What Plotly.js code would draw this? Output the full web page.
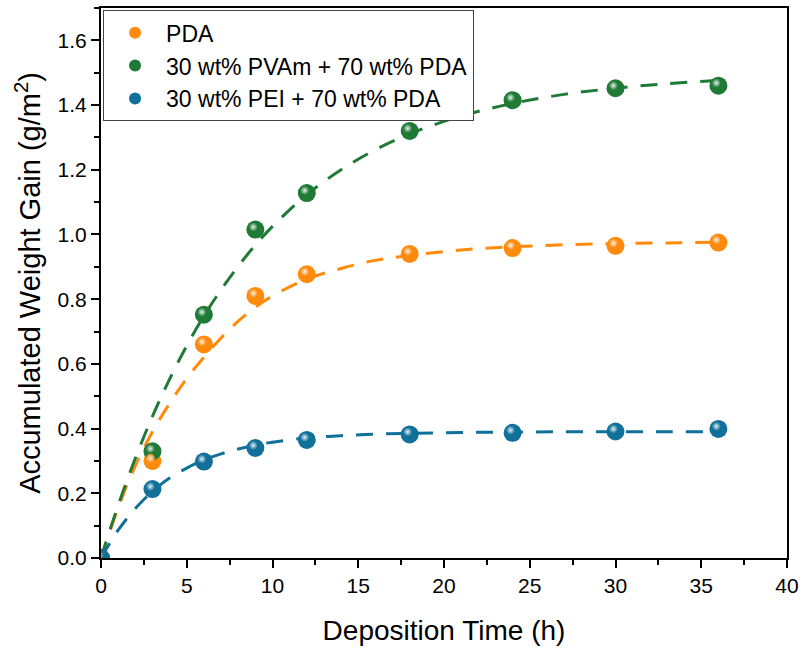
<!DOCTYPE html>
<html>
<head>
<meta charset="utf-8">
<script src="https://cdn.plot.ly/plotly-3.0.1.min.js"></script>
<style>html,body{margin:0;padding:0;background:#fff;}#chart{width:802px;height:654px;}</style>
</head>
<body>
<div id="chart"></div>
<script>
// Measured data points
const timeH = [0, 3, 6, 9, 12, 18, 24, 30, 36];
const pdaGain  = [0, 0.300, 0.660, 0.810, 0.877, 0.940, 0.958, 0.965, 0.975];
const pvamGain = [0, 0.330, 0.752, 1.015, 1.128, 1.320, 1.415, 1.452, 1.460];
const peiGain  = [0, 0.213, 0.298, 0.340, 0.365, 0.382, 0.387, 0.391, 0.399];

// Fitted curves
const fitTime = [0, 1, 2, 3, 4, 5, 6, 7, 8, 9, 10, 12, 14, 16, 18, 21, 24, 27, 30, 33, 36];
const pdaFit  = [0, 0.155, 0.285, 0.390, 0.478, 0.555, 0.620, 0.680, 0.732, 0.775, 0.810, 0.862, 0.895, 0.920, 0.935, 0.952, 0.962, 0.968, 0.972, 0.974, 0.976];
const pvamFit = [0, 0.163, 0.308, 0.438, 0.553, 0.656, 0.748, 0.829, 0.902, 0.967, 1.025, 1.123, 1.200, 1.262, 1.311, 1.366, 1.405, 1.433, 1.452, 1.466, 1.476];
const peiFit  = [0, 0.086, 0.153, 0.206, 0.247, 0.278, 0.303, 0.322, 0.337, 0.349, 0.358, 0.371, 0.378, 0.383, 0.385, 0.388, 0.389, 0.390, 0.390, 0.390, 0.390];

const seriesNames = ["PDA", "30 wt% PVAm + 70 wt% PDA", "30 wt% PEI + 70 wt% PDA"];
const colors = ["#ff8a0c", "#1f7a36", "#11709a"];

const fits = [pdaFit, pvamFit, peiFit];
const pts = [pdaGain, pvamGain, peiGain];

const traces = [];
fits.forEach((f, i) => {
  traces.push({
    x: fitTime, y: f, mode: "lines", type: "scatter", showlegend: false, hoverinfo: "skip",
    line: {color: colors[i], width: 3, dash: "17px,13px", shape: "spline"}
  });
});
pts.forEach((p, i) => {
  traces.push({
    x: timeH, y: p, mode: "markers", type: "scatter", name: seriesNames[i],
    cliponaxis: true,
    marker: {color: colors[i], size: 18, line: {width: 0}}
  });
  // glossy highlight, drawn on slightly shifted overlay axes
  traces.push({
    x: timeH, y: p, mode: "markers", type: "scatter", showlegend: false, hoverinfo: "skip",
    xaxis: "x2", yaxis: "y2", cliponaxis: true,
    marker: {color: colors[i], size: 9, line: {width: 0}, opacity: 0.9,
             gradient: {type: "radial", color: "#ffffff"}}
  });
});

const axisCommon = {
  showgrid: false, zeroline: false,
  showline: true, linecolor: "#000", linewidth: 2, mirror: true,
  ticks: "outside", ticklen: 8, tickwidth: 2, tickcolor: "#000",
  tickfont: {size: 21}
};

const layout = {
  width: 802, height: 654,
  margin: {l: 101, r: 15, t: 8, b: 96},
  paper_bgcolor: "#fff", plot_bgcolor: "#fff",
  font: {family: "Liberation Sans, Arial, sans-serif", color: "#000", size: 20},
  showlegend: true,
  legend: {
    x: 0.003, y: 0.996, xanchor: "left", yanchor: "top",
    bgcolor: "#fff", bordercolor: "#444", borderwidth: 1,
    font: {size: 23, family: "Liberation Sans, Arial, sans-serif"},
    itemsizing: "constant", tracegroupgap: 0, itemwidth: 52
  },
  xaxis: Object.assign({}, axisCommon, {
    range: [0, 40], dtick: 5, tick0: 0,
    minor: {dtick: 2.5, ticks: "outside", ticklen: 5, tickwidth: 2, tickcolor: "#000", showgrid: false},
    title: {text: "Deposition Time (h)", font: {size: 28}, standoff: 24}
  }),
  yaxis: Object.assign({}, axisCommon, {
    range: [0, 1.7], dtick: 0.2, tick0: 0, tickformat: ".1f",
    minor: {dtick: 0.1, ticks: "outside", ticklen: 5, tickwidth: 2, tickcolor: "#000", showgrid: false},
    title: {text: "Accumulated Weight Gain (g/m<sup>2</sup>)", font: {size: 29}, standoff: 8}
  }),
  xaxis2: {overlaying: "x", range: [0.12, 40.12], visible: false, showgrid: false, zeroline: false},
  yaxis2: {overlaying: "y", range: [-0.008, 1.692], visible: false, showgrid: false, zeroline: false}
};

Plotly.newPlot("chart", traces, layout, {displayModeBar: false, staticPlot: true});
</script>
</body>
</html>
